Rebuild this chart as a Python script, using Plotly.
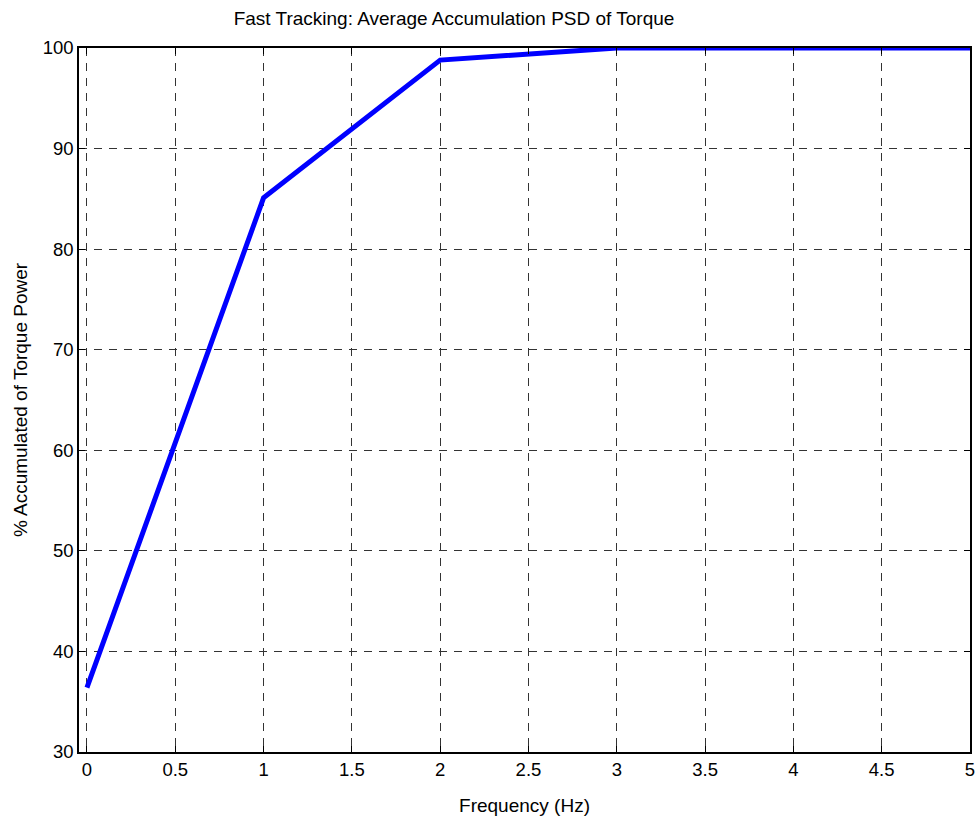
import plotly.graph_objects as go

freq = [0, 1, 2, 3, 4, 5]
accum = [36.4, 85.1, 98.8, 100, 100, 100]
x_ticks = [0, 0.5, 1, 1.5, 2, 2.5, 3, 3.5, 4, 4.5, 5]
x_tick_labels = ["0", "0.5", "1", "1.5", "2", "2.5", "3", "3.5", "4", "4.5", "5"]
y_ticks = [30, 40, 50, 60, 70, 80, 90, 100]

font = "Liberation Sans, Arial, sans-serif"

fig = go.Figure()
fig.add_trace(go.Scatter(x=freq, y=accum, mode="lines",
                         line=dict(color="#0000ff", width=5), showlegend=False))

axis_common = dict(showline=True, linecolor="black", linewidth=1.5, mirror="allticks",
                   ticks="inside", ticklen=6, tickcolor="black", automargin=False,
                   showgrid=True, gridcolor="#333333", griddash="8px,7px", gridwidth=1,
                   zeroline=False, tickfont=dict(family=font, size=18.5, color="black"))

fig.update_xaxes(range=[-0.045, 5], tickvals=x_ticks, ticktext=x_tick_labels,
                 title=dict(text="Frequency (Hz)", font=dict(family=font, size=19, color="black"),
                            standoff=20), **axis_common)
fig.update_yaxes(range=[30, 100], tickvals=y_ticks,
                 title=dict(text="% Accumulated of Torque Power", font=dict(family=font, size=19, color="black"),
                            standoff=10), **axis_common)

fig.update_layout(
    width=977, height=818,
    margin=dict(l=79, r=7, t=48, b=66),
    paper_bgcolor="white", plot_bgcolor="white",
    title=dict(text="Fast Tracking: Average Accumulation PSD of Torque",
               font=dict(family=font, size=19, color="black"),
               x=0.4647, xanchor="center", y=0.978, yanchor="middle"),
)

fig.write_html("out.html")
